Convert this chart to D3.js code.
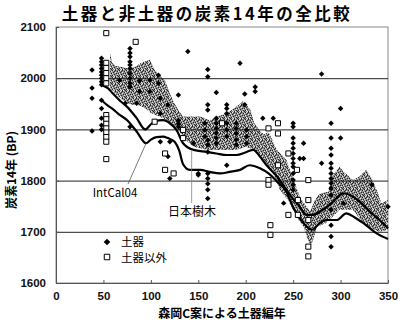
<!DOCTYPE html>
<html><head><meta charset="utf-8">
<script src="https://cdn.jsdelivr.net/npm/d3@7/dist/d3.min.js"></script>
<style>
html,body{margin:0;padding:0;background:#fff;}
svg{display:block;}
</style></head>
<body>
<svg id="chart" width="400" height="325"></svg>
<script>
// ---------- data ----------
const titleText = "土器と非土器の炭素14年の全比較";
const xTicks = [0, 50, 100, 150, 200, 250, 300, 350];
const yTicks = [1600, 1700, 1800, 1900, 2000, 2100];
const gridValues = [1700, 1800, 1900, 2000];

// 日本樹木 curve
const jpX = [48, 55, 60, 68, 75, 85, 94, 100, 104, 113, 120, 127, 134, 145, 159, 169, 180, 190, 201, 208, 215, 222, 233, 243, 250, 257, 264, 271, 278, 286, 292, 303, 310, 320, 331, 341, 350];
const jpV = [1987, 1980, 1970, 1955, 1944, 1922, 1900, 1910, 1916, 1918, 1912, 1899, 1873, 1860, 1856, 1853, 1850, 1850, 1856, 1860, 1847, 1830, 1808, 1782, 1764, 1749, 1733, 1733, 1739, 1749, 1759, 1775, 1772, 1759, 1739, 1723, 1707];

// IntCal04 curve
const icX = [48, 55, 59, 66, 75, 85, 95, 100, 106, 113, 118, 125, 130, 134, 141, 152, 162, 173, 183, 194, 204, 215, 224, 233, 243, 250, 261, 270, 278, 285, 296, 306, 315, 324, 338, 350];
const icV = [1957, 1946, 1941, 1930, 1918, 1896, 1873, 1880, 1885, 1886, 1883, 1876, 1858, 1832, 1821, 1821, 1817, 1814, 1817, 1821, 1830, 1824, 1814, 1798, 1778, 1748, 1717, 1704, 1717, 1723, 1723, 1736, 1728, 1717, 1697, 1686];

// shaded band (range)
const bandTopX = [57, 59, 63, 70, 76, 83, 90, 99, 104, 110, 115, 120, 125, 130, 134, 145, 152, 162, 170, 180, 190, 197, 200, 205, 209, 214, 219, 224, 228, 233, 243, 248, 257, 264, 268, 273, 278, 287, 291, 299, 303, 313, 320, 327, 333, 338, 343, 350];
const bandTopV = [2049, 2030, 2024, 2022, 2019, 2022, 2030, 2036, 2016, 2004, 1995, 1970, 1950, 1935, 1925, 1925, 1925, 1918, 1925, 1931, 1944, 1955, 1950, 1938, 1912, 1900, 1890, 1895, 1880, 1860, 1840, 1814, 1769, 1749, 1740, 1762, 1775, 1778, 1808, 1827, 1818, 1801, 1808, 1821, 1804, 1782, 1756, 1762];
const bandBotX = [57, 60, 65, 70, 75, 80, 85, 90, 95, 100, 105, 110, 115, 120, 127, 135, 145, 160, 175, 190, 200, 210, 215, 222, 230, 236, 245, 255, 261, 268, 271, 275, 285, 299, 313, 327, 341, 350];
const bandBotV = [1980, 1975, 1965, 1958, 1951, 1948, 1948, 1945, 1940, 1932, 1928, 1924, 1920, 1914, 1905, 1882, 1866, 1860, 1860, 1860, 1866, 1860, 1850, 1834, 1810, 1782, 1760, 1725, 1710, 1671, 1684, 1710, 1717, 1743, 1743, 1710, 1700, 1704];

// 土器 (pottery) points
const potX = [38,38,38,38,
  48,48,48,48,48,48,48,48,48,48,48,48,48,48,
  67,73,
  78,78,78,78,78,78,78,78,78,78,78,
  85,88,88,99,99,108,108,110,110,110,118,118,120,120,
  129,129,129,129,139,145,150,150,
  157,157,157,
  160,160,160,160,160,160,160,160,160,160,160,160,
  169,169,169,169,169,169,169,
  180,180,180,180,180,180,180,
  190,190,190,190,190,
  194,199,199,201,201,201,210,210,218,229,240,
  250,250,250,250,250,250,250,250,250,250,250,250,250,
  257,261,261,280,280,
  290,290,290,290,290,290,290,290,290,290,290,290,290,290,290,
  300,300,303,333,350];
const potV = [2016,1981,1961,1897,
  2039,2032,2026,2019,2012,2006,2000,1993,1987,1957,1941,1922,1908,1900,
  1996,1951,
  2058,2049,2042,2032,2026,2019,2009,2000,1990,1983,1905,
  1951,1995,1974,1996,1974,2006,1990,1961,1931,1876,1948,1847,1876,1804,
  1967,1918,1911,1905,2052,1873,1811,1814,
  1912,1899,1886,
  2017,2003,1948,1938,1879,1870,1856,1814,1804,1794,1782,1765,
  1972,1922,1912,1902,1893,1883,1873,
  1948,1941,1931,1912,1899,1886,1830,
  1912,1902,1892,1880,1870,
  2029,1969,1948,1899,1886,1873,1983,1974,1922,1922,1756,
  1912,1905,1883,1873,1863,1853,1843,1834,1827,1814,1801,1792,1782,
  1843,1873,1843,2008,1834,
  1912,1883,1863,1850,1834,1824,1814,1804,1795,1785,1772,1743,1713,1691,1671,
  1941,1883,1756,1792,1749];

// 土器以外 (non-pottery) points
const nonX = [53,53,53,53,53,53,53,53,53,53,53,53,53,53,
  84,104,115,115,124,134,134,175,224,224,224,234,234,234,245,245,254,255,255,226,226,
  266,266,266,266,266];
const nonV = [2088,2030,2020,2010,2000,1990,1928,1920,1911,1902,1894,1885,1876,1842,
  2071,1915,1853,1821,1814,1899,1883,1912,1902,1801,1792,1912,1892,1830,1853,1733,1821,1762,1733,1713,1694,
  1801,1762,1723,1671,1652];

const legendLabels = ["土器", "土器以外"];
const annoLabels = ["IntCal04", "日本樹木"];
const xTitle = "森岡C案による土器編年";
const yTitle = "炭素14年 (BP)";

// ---------- drawing ----------
const svg = d3.select("#chart");
const jpFont = "'Noto Sans CJK JP', 'Noto Sans', sans-serif";
const numFont = "'Liberation Sans', Arial, sans-serif";

const x = d3.scaleLinear().domain([0, 350]).range([56, 388]);
const y = d3.scaleLinear().domain([1600, 2100]).range([283, 27]);

svg.append("rect").attr("width", 400).attr("height", 325).attr("fill", "#fff");

// stipple pattern (irregular 7x7 tile)
const defs = svg.append("defs");
const pat = defs.append("pattern").attr("id", "stip").attr("patternUnits", "userSpaceOnUse")
  .attr("width", 7).attr("height", 7);
pat.append("rect").attr("width", 7).attr("height", 7).attr("fill", "#8e8e8e");
const stipDark = [[0,0],[3,0],[5,1],[1,2],[4,3],[6,3],[2,4],[0,5],[5,5],[3,6],[2,1],[6,6]];
const stipLight = [[1,0],[6,1],[3,2],[0,3],[5,4],[1,5],[4,6],[2,6]];
stipDark.forEach(p => pat.append("rect").attr("x", p[0]).attr("y", p[1]).attr("width", 1).attr("height", 1).attr("fill", "#262626"));
stipLight.forEach(p => pat.append("rect").attr("x", p[0]).attr("y", p[1]).attr("width", 1).attr("height", 1).attr("fill", "#e6e6e6"));

// title
svg.append("text").attr("x", 207).attr("y", 20).attr("text-anchor", "middle")
  .attr("font-family", jpFont).attr("font-size", 16.5).attr("font-weight", "bold")
  .attr("letter-spacing", 2.5).text(titleText);

// plot frame
svg.append("rect").attr("x", 56).attr("y", 27).attr("width", 332).attr("height", 256)
  .attr("fill", "none").attr("stroke", "#888").attr("stroke-width", 1);

// band
const bandTop = bandTopX.map((d, i) => [d, bandTopV[i]]);
const bandBot = bandBotX.map((d, i) => [d, bandBotV[i]]);
const bandPoly = bandTop.concat(bandBot.slice().reverse());
svg.append("path")
  .attr("d", d3.line().x(d => x(d[0])).y(d => y(d[1]))(bandPoly) + "Z")
  .attr("fill", "url(#stip)").attr("stroke", "none");

// gridlines
svg.append("g").selectAll("line").data(gridValues).join("line")
  .attr("x1", 56).attr("x2", 388).attr("y1", d => y(d) + 0.5).attr("y2", d => y(d) + 0.5)
  .attr("stroke", "#222").attr("stroke-width", 1);

// axes
const xAxis = svg.append("g").attr("transform", "translate(0,283)")
  .call(d3.axisBottom(x).tickValues(xTicks).tickFormat(d3.format("d"))
    .tickSizeInner(-3).tickSizeOuter(0).tickPadding(9));
const yAxis = svg.append("g").attr("transform", "translate(56,0)")
  .call(d3.axisLeft(y).tickValues(yTicks).tickFormat(d3.format("d"))
    .tickSizeInner(-3).tickSizeOuter(0).tickPadding(10));
[xAxis, yAxis].forEach(a => {
  a.select(".domain").attr("stroke", "#555");
  a.selectAll(".tick line").attr("stroke", "#555");
  a.selectAll("text").attr("font-family", numFont).attr("font-size", 11.5)
    .attr("font-weight", "bold").attr("fill", "#111");
});

// curves
const curveLine = d3.line().x(d => x(d[0])).y(d => y(d[1])).curve(d3.curveMonotoneX);
svg.append("path").attr("d", curveLine(jpX.map((d, i) => [d, jpV[i]])))
  .attr("fill", "none").attr("stroke", "#000").attr("stroke-width", 2.2);
svg.append("path").attr("d", curveLine(icX.map((d, i) => [d, icV[i]])))
  .attr("fill", "none").attr("stroke", "#000").attr("stroke-width", 2.2);

// points
const diamond = d3.symbol().type(d3.symbolSquare).size(15);
svg.append("g").selectAll("path").data(potX.map((d, i) => [d, potV[i]])).join("path")
  .attr("d", diamond)
  .attr("transform", d => `translate(${x(d[0])},${y(d[1])}) rotate(45)`)
  .attr("fill", "#000");
const square = d3.symbol().type(d3.symbolSquare).size(26);
svg.append("g").selectAll("path").data(nonX.map((d, i) => [d, nonV[i]])).join("path")
  .attr("d", square)
  .attr("transform", d => `translate(${x(d[0])},${y(d[1])})`)
  .attr("fill", "#fff").attr("stroke", "#000").attr("stroke-width", 1);

// annotations
svg.append("line").attr("x1", x(95)).attr("y1", y(1873)).attr("x2", 128).attr("y2", 184)
  .attr("stroke", "#555").attr("stroke-width", 0.8);
svg.append("text").attr("x", 115).attr("y", 197).attr("text-anchor", "middle")
  .attr("font-family", jpFont).attr("font-size", 11.5).text(annoLabels[0]);
svg.append("line").attr("x1", x(143)).attr("y1", y(1860)).attr("x2", x(143)).attr("y2", 203)
  .attr("stroke", "#888").attr("stroke-width", 0.8);
svg.append("text").attr("x", 192).attr("y", 216).attr("text-anchor", "middle")
  .attr("font-family", jpFont).attr("font-size", 12).text(annoLabels[1]);

// legend
svg.append("path").attr("d", d3.symbol().type(d3.symbolSquare).size(22)())
  .attr("transform", "translate(107,242) rotate(45)").attr("fill", "#000");
svg.append("path").attr("d", d3.symbol().type(d3.symbolSquare).size(30)())
  .attr("transform", "translate(107,257)").attr("fill", "#fff").attr("stroke", "#000");
svg.append("text").attr("x", 121).attr("y", 246).attr("font-family", jpFont).attr("font-size", 11.5)
  .text(legendLabels[0]);
svg.append("text").attr("x", 121).attr("y", 261.5).attr("font-family", jpFont).attr("font-size", 11.5)
  .text(legendLabels[1]);

// axis titles
svg.append("text").attr("x", 222).attr("y", 318).attr("text-anchor", "middle")
  .attr("font-family", jpFont).attr("font-size", 12).attr("font-weight", "bold").text(xTitle);
svg.append("text").attr("transform", "translate(16,170) rotate(-90)").attr("text-anchor", "middle")
  .attr("font-family", jpFont).attr("font-size", 12).attr("font-weight", "bold").text(yTitle);
</script>
</body></html>
